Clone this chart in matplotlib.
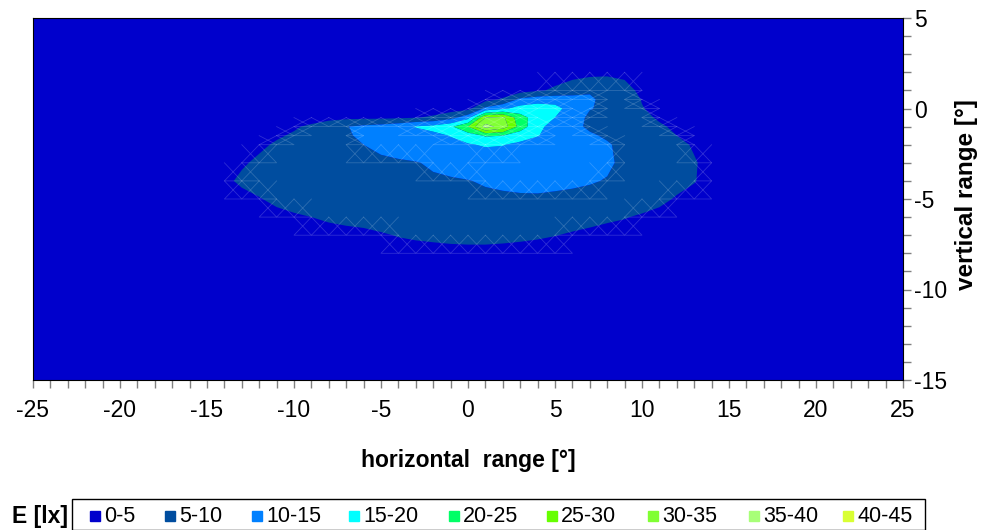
import numpy as np
import matplotlib.pyplot as plt
from matplotlib.patches import Rectangle

plt.rcParams['font.family'] = ['Liberation Sans', 'DejaVu Sans']
plt.rcParams['axes.unicode_minus'] = False

# measurement grid [deg]
h_deg = list(range(-15, 15))
v_deg = [2, 1, 0.5, 0, -0.5, -1, -1.5, -2, -3, -4, -5, -6, -7, -8]

# illuminance E [lx] per vertical angle, columns follow h_deg
e_v2 = [2.6, 2.7, 2.8, 2.9, 3.0, 3.0, 3.1, 3.1, 3.2, 3.2, 3.2, 3.3, 3.3, 3.3, 3.3,
        3.2, 3.2, 3.1, 3.0, 3.0, 3.1, 3.2, 3.4, 3.9, 3.9, 3.3, 3.0, 2.8, 2.7, 2.6]
e_v1 = [2.8, 2.9, 3.0, 3.1, 3.2, 3.3, 3.4, 3.4, 3.5, 3.5, 3.6, 3.6, 3.7, 3.7, 3.5,
        3.0, 2.8, 2.6, 3.0, 4.5, 5.6, 7.5, 9.6, 8.8, 6.5, 4.0, 3.3, 3.0, 2.9, 2.8]
e_v05 = [2.7, 2.8, 2.9, 3.0, 3.1, 3.2, 3.2, 3.1, 3.0, 2.9, 2.8, 2.8, 2.8, 2.9, 3.0,
         3.2, 3.5, 5.5, 11.0, 12.5, 13.0, 12.0, 10.5, 9.0, 7.5, 4.8, 3.6, 3.2, 3.0, 2.8]
e_v0 = [2.7, 2.8, 3.0, 3.1, 3.3, 3.3, 3.2, 3.1, 3.0, 3.0, 3.0, 3.0, 3.0, 3.0, 3.0,
        3.5, 11.0, 14.0, 17.0, 18.0, 16.5, 13.0, 10.2, 9.2, 7.8, 5.2, 3.8, 3.2, 2.9, 2.7]
e_vm05 = [2.6, 2.8, 3.0, 3.3, 3.4, 3.5, 3.5, 3.7, 3.9, 4.0, 4.0, 4.3, 4.8, 5.6, 8.0,
          13.0, 30.0, 31.0, 22.0, 17.5, 15.0, 12.0, 9.2, 9.0, 8.3, 6.2, 4.4, 3.6, 3.1, 2.8]
e_vm1 = [2.5, 2.8, 3.2, 3.6, 4.0, 4.6, 5.6, 7.5, 9.8, 11.0, 11.8, 13.2, 15.3, 16.5, 19.0,
         25.0, 37.0, 33.0, 23.0, 16.0, 13.5, 10.8, 9.5, 9.0, 8.5, 7.2, 5.6, 4.2, 3.5, 3.0]
e_vm15 = [2.7, 3.0, 3.5, 4.0, 4.6, 5.4, 6.5, 8.2, 9.6, 10.6, 11.3, 12.0, 12.8, 13.8, 15.2,
          17.5, 20.5, 20.0, 17.0, 15.2, 13.3, 11.8, 10.4, 9.6, 8.8, 7.6, 6.3, 5.0, 3.9, 3.2]
e_vm2 = [2.8, 3.2, 3.8, 4.4, 5.4, 6.5, 7.5, 8.5, 9.3, 10.0, 11.0, 11.8, 12.5, 13.0, 13.8,
         14.6, 15.5, 15.2, 14.0, 13.2, 12.8, 12.2, 11.0, 10.3, 9.2, 8.0, 7.0, 6.0, 4.6, 3.5]
e_vm3 = [3.2, 3.8, 4.6, 5.6, 6.5, 7.2, 7.8, 8.2, 8.6, 8.9, 9.2, 9.5, 9.8, 10.5, 11.0,
         11.5, 12.0, 12.2, 12.5, 12.6, 12.4, 12.0, 11.5, 10.6, 9.2, 8.2, 7.5, 6.6, 5.3, 3.8]
e_vm4 = [3.4, 4.3, 5.6, 6.5, 7.0, 7.4, 7.8, 8.2, 8.5, 8.7, 8.9, 9.1, 9.3, 9.5, 9.7,
         9.9, 10.3, 10.6, 10.8, 10.9, 10.8, 10.6, 10.3, 9.8, 9.0, 8.0, 7.2, 6.4, 5.2, 3.6]
e_vm5 = [2.8, 3.4, 4.0, 4.8, 5.8, 6.6, 7.2, 7.6, 7.9, 8.1, 8.3, 8.5, 8.7, 8.9, 9.1,
         9.2, 9.4, 9.5, 9.6, 9.6, 9.4, 9.2, 8.9, 8.4, 7.8, 7.0, 6.0, 4.6, 3.8, 3.2]
e_vm6 = [2.4, 2.8, 3.2, 3.6, 4.0, 4.5, 5.0, 5.6, 6.1, 6.5, 6.9, 7.2, 7.5, 7.7, 7.9,
         8.0, 8.0, 7.9, 7.7, 7.4, 7.0, 6.6, 6.1, 5.6, 5.2, 4.5, 3.8, 3.3, 2.9, 2.6]
e_vm7 = [2.0, 2.2, 2.4, 2.6, 2.9, 3.1, 3.3, 3.6, 3.8, 4.0, 4.6, 5.2, 5.6, 5.9, 6.2,
         6.3, 6.3, 6.1, 5.8, 5.5, 5.1, 4.6, 4.2, 3.8, 3.5, 3.2, 2.9, 2.6, 2.4, 2.2]
e_vm8 = [1.8, 1.9, 2.0, 2.1, 2.2, 2.4, 2.5, 2.7, 2.9, 3.0, 3.2, 3.4, 3.5, 3.6, 3.7,
         3.8, 3.8, 3.7, 3.6, 3.4, 3.2, 3.0, 2.9, 2.7, 2.5, 2.4, 2.2, 2.1, 2.0, 1.9]

levels = [0, 5, 10, 15, 20, 25, 30, 35, 40, 45]
band_labels = ['0-5', '5-10', '10-15', '15-20', '20-25', '25-30', '30-35', '35-40', '40-45']
band_colors = ['#0000cc', '#004d9f', '#0080ff', '#00ffff', '#00ff66',
               '#66ff00', '#80ff33', '#a8ff78', '#d9ff33']

E = np.array([e_v2, e_v1, e_v05, e_v0, e_vm05, e_vm1, e_vm15, e_vm2,
              e_vm3, e_vm4, e_vm5, e_vm6, e_vm7, e_vm8])
X, Y = np.meshgrid(h_deg, v_deg)

fig = plt.figure(figsize=(9.82, 5.30), dpi=100)
ax = fig.add_axes([33 / 982, 1 - 380 / 530, 870 / 982, 362 / 530])
ax.set_facecolor(band_colors[0])

ax.contourf(X, Y, E, levels=levels, colors=band_colors, antialiased=True)

# faint triangle seams where a cell crosses a band edge
band = np.digitize(E, levels[1:-1])
for i in range(len(v_deg) - 1):
    for j in range(len(h_deg) - 1):
        cell = band[i:i + 2, j:j + 2]
        if cell.min() != cell.max():
            x0, x1 = h_deg[j], h_deg[j + 1]
            y0, y1 = v_deg[i], v_deg[i + 1]
            ax.plot([x0, x1, x0, x1], [y0, y1, y1, y0], color='white',
                    lw=0.6, alpha=0.18, zorder=3)

ax.set_xlim(-25, 25)
ax.set_ylim(-15, 5)
ax.set_xticks(range(-25, 26, 5))
ax.set_xticks(range(-25, 26), minor=True)
ax.set_yticks(range(-15, 6, 5))
ax.set_yticks(range(-15, 6), minor=True)
ax.yaxis.tick_right()
ax.tick_params(axis='x', which='both', direction='out', length=6, width=1,
               color='#808080', labelsize=16.5, pad=8)
ax.tick_params(axis='y', which='both', direction='out', length=6, width=1,
               color='#808080', labelsize=16.5, pad=2)
for s in ax.spines.values():
    s.set_linewidth(0.8)
    s.set_color('black')

fig.text(468 / 982, 1 - 460 / 530, 'horizontal  range [°]', ha='center', va='center',
         fontsize=16.5, fontweight='bold')
fig.text(966 / 982, 1 - 195 / 530, 'vertical range [°]', ha='center', va='center',
         rotation=90, fontsize=17.5, fontweight='bold')

# legend strip
narrow = ['Liberation Sans Narrow', 'Liberation Sans', 'DejaVu Sans']
fig.text(12 / 982, 1 - 516 / 530, 'E [lx]', ha='left', va='center',
         fontsize=16.5, fontweight='bold', family=narrow)
fig.patches.append(Rectangle((72 / 982, 0.0), (925 - 72) / 982, 1 - 499 / 530,
                             transform=fig.transFigure, fill=False,
                             edgecolor='black', lw=1))
swatch_x = [90, 165, 252, 349, 449, 547, 648, 749, 843]
for sx, lab, col in zip(swatch_x, band_labels, band_colors):
    fig.patches.append(Rectangle((sx / 982, 1 - 521 / 530), 10 / 982, 10 / 530,
                                 transform=fig.transFigure, color=col))
    fig.text((sx + 14) / 982, 1 - 517 / 530, lab, ha='left', va='center',
             fontsize=15.5, family=narrow)

fig.savefig('out.png', dpi=100)
